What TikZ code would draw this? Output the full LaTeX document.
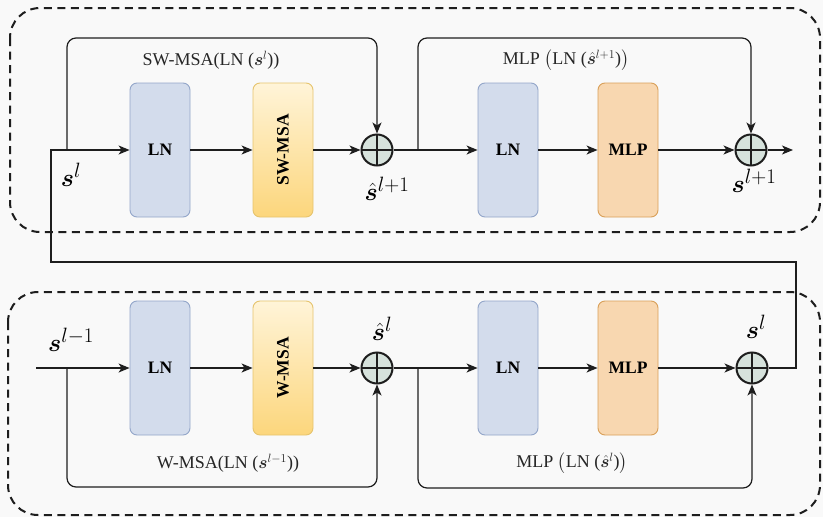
\documentclass[tikz,border=0pt]{standalone}
\usepackage{amsmath}
\usepackage{bm}
\usepackage{fontspec}
\setmainfont{Liberation Serif}
\usetikzlibrary{arrows.meta}

\definecolor{bgcol}{HTML}{F9F9F9}
\definecolor{lnfill}{HTML}{D3DCEC}
\definecolor{lndraw}{HTML}{93A6C9}
\definecolor{ytop}{HTML}{FFF4D8}
\definecolor{ybot}{HTML}{FCD67C}
\definecolor{ydraw}{HTML}{E6C46E}
\definecolor{mlpfill}{HTML}{F8D7B0}
\definecolor{mlpdraw}{HTML}{D9A05A}
\definecolor{addfill}{HTML}{D6E2DC}
\definecolor{linecol}{HTML}{1E1E1E}

\tikzset{
  blockbox/.style={rounded corners=7pt, minimum width=60pt, minimum height=134pt,
    line width=0.9pt, inner sep=0pt, font=\fontsize{17.5}{17.5}\selectfont\bfseries},
  lnbox/.style={blockbox, fill=lnfill, draw=lndraw},
  msabox/.style={blockbox, top color=ytop, bottom color=ybot, draw=ydraw},
  mlpbox/.style={blockbox, fill=mlpfill, draw=mlpdraw},
  addnode/.style={circle, minimum size=31pt, inner sep=0pt, fill=addfill,
    draw=linecol, line width=2pt,
    path picture={
      \draw[linecol, line width=1.6pt]
        (path picture bounding box.north) -- (path picture bounding box.south)
        (path picture bounding box.west) -- (path picture bounding box.east);}},
  conn/.style={draw=linecol, line width=1.2pt},
  arr/.style={conn, -{Stealth[length=11pt, width=9pt, inset=3pt]}},
  group/.style={draw=linecol, line width=2pt, dash pattern=on 8pt off 5.5pt,
    rounded corners=30pt},
  formula/.style={font=\fontsize{18}{18}\selectfont, text=black!85},
  bigsym/.style={font=\fontsize{28}{28}\selectfont, inner sep=0pt},
}

\begin{document}
\begin{tikzpicture}[x=1pt, y=-1pt]
  \useasboundingbox (0,0) rectangle (823,517);
  \fill[bgcol] (0,0) rectangle (823,517);

  % the two dashed blocks
  \draw[group] (10,8) rectangle (820,232);
  \draw[group] (8,292) rectangle (820,515);

  % ---------- upper block: shifted-window layer ----------
  \node[lnbox] (ln1) at (160,150) {LN};
  \node[msabox] (sw) at (283,150) {\rotatebox{90}{SW-MSA}};
  \node[addnode] (add1) at (377,150) {};
  \node[lnbox] (ln2) at (508,150) {LN};
  \node[mlpbox] (mlp1) at (628,150) {MLP};
  \node[addnode] (add2) at (751,150) {};

  % ---------- lower block: window layer ----------
  \node[lnbox] (ln3) at (160,368) {LN};
  \node[msabox] (wm) at (283,368) {\rotatebox{90}{W-MSA}};
  \node[addnode] (add3) at (377,368) {};
  \node[lnbox] (ln4) at (508,368) {LN};
  \node[mlpbox] (mlp2) at (628,368) {MLP};
  \node[addnode] (add4) at (752,368) {};

  % routing points
  \coordinate (inB) at (36,368);
  \coordinate (brB1) at (67,368);
  \coordinate (lowB1) at (67,487);
  \coordinate (brB2) at (418,368);
  \coordinate (lowB2) at (418,488);
  \coordinate (turnR) at (796,262);
  \coordinate (turnL) at (51,262);
  \coordinate (inT) at (51,150);
  \coordinate (brT1) at (67,150);
  \coordinate (upT1) at (67,38);
  \coordinate (brT2) at (418,150);
  \coordinate (upT2) at (418,38);
  \coordinate (outT) at (793,150);

  % lower block connectors
  \draw[arr] (inB) -- (ln3.west);
  \draw[arr] (ln3.east) -- (wm.west);
  \draw[arr] (wm.east) -- (add3.west);
  \draw[arr, rounded corners=9pt] (brB1) -- (lowB1) -| (add3.south);
  \draw[arr] (add3.east) -- (ln4.west);
  \draw[arr] (ln4.east) -- (mlp2.west);
  \draw[arr] (mlp2.east) -- (add4.west);
  \draw[arr, rounded corners=9pt] (brB2) -- (lowB2) -| (add4.south);

  % hand-over from the lower block to the upper block
  \draw[arr] (add4.east) -| (turnR) -- (turnL) -- (inT) -- (ln1.west);

  % upper block connectors
  \draw[arr] (ln1.east) -- (sw.west);
  \draw[arr] (sw.east) -- (add1.west);
  \draw[arr, rounded corners=9pt] (brT1) -- (upT1) -| (add1.north);
  \draw[arr] (add1.east) -- (ln2.west);
  \draw[arr] (ln2.east) -- (mlp1.west);
  \draw[arr] (mlp1.east) -- (add2.west);
  \draw[arr, rounded corners=9pt] (brT2) -- (upT2) -| (add2.north);
  \draw[arr] (add2.east) -- (outT);

  % formulas on the skip paths
  \node[formula] (fT1) at (211,60) {SW-MSA(LN ($\bm{s}^{l}$))};
  \node[formula] (fT2) at (566,60) {MLP $\big($LN ($\hat{\bm{s}}^{l+1}$)$\big)$};
  \node[formula] (fB1) at (228,463) {W-MSA(LN ($\bm{s}^{l-1}$))};
  \node[formula] (fB2) at (572,463) {MLP $\big($LN ($\hat{\bm{s}}^{l}$)$\big)$};

  % signal names
  \node[bigsym] (sA) at (71,175) {$\bm{s}^{l}$};
  \node[bigsym] (sB) at (387,189) {$\hat{\bm{s}}^{l+1}$};
  \node[bigsym] (sC) at (754,181) {$\bm{s}^{l+1}$};
  \node[bigsym] (sD) at (71,340) {$\bm{s}^{l-1}$};
  \node[bigsym] (sE) at (382,329) {$\hat{\bm{s}}^{l}$};
  \node[bigsym] (sF) at (756,327) {$\bm{s}^{l}$};
\end{tikzpicture}
\end{document}
